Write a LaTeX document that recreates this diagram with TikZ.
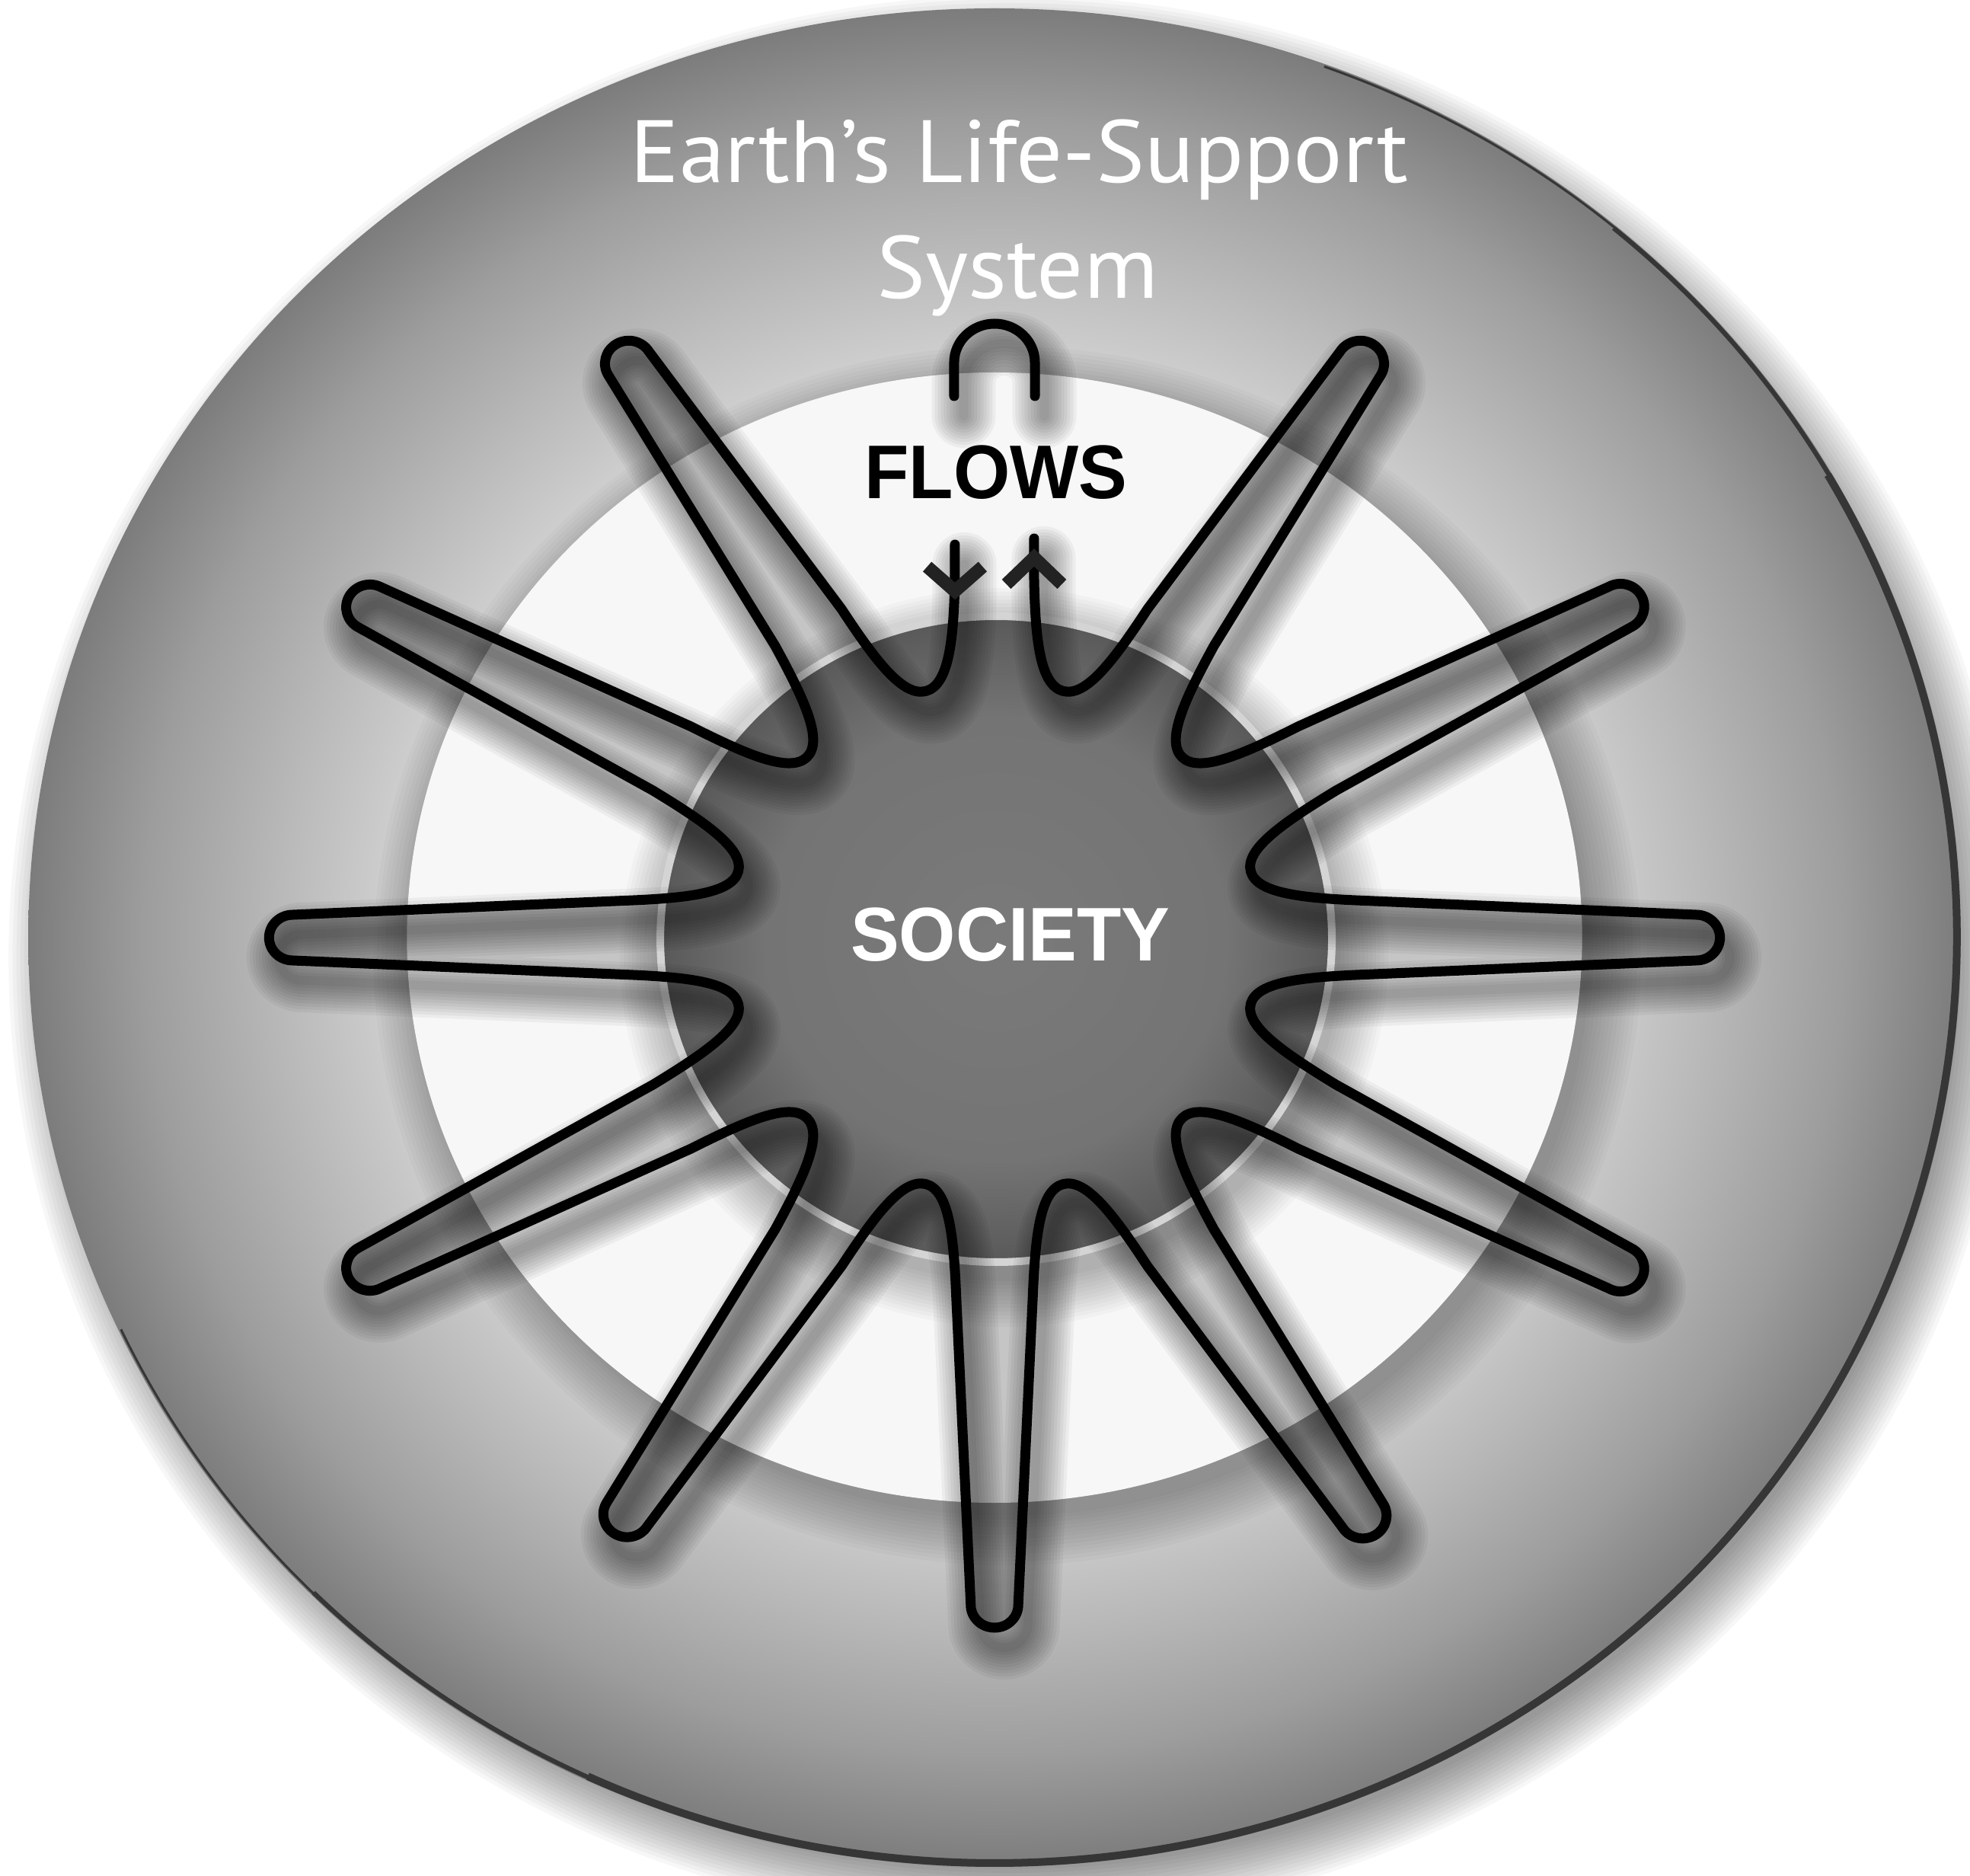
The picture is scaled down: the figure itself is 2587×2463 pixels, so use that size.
\documentclass[tikz,border=0pt]{standalone}
\usepackage{fontspec}
\newfontfamily\titlefont{PT Sans}
\newfontfamily\labelfont{Liberation Sans}[FakeStretch=0.92]
\definecolor{discA}{HTML}{D0D0D0}
\definecolor{discB}{HTML}{B9B9B9}
\definecolor{discC}{HTML}{9D9D9D}
\definecolor{discD}{HTML}{7C7C7C}
\definecolor{ringwhite}{HTML}{F7F7F7}
\definecolor{socA}{HTML}{7A7A7A}
\definecolor{socB}{HTML}{747474}
\definecolor{socC}{HTML}{585858}
\definecolor{socborder}{HTML}{D4D4D4}
\definecolor{rimdark}{HTML}{363636}
\definecolor{chevcolor}{HTML}{222222}
% the path bounding box corresponds to +-25bp of a declared shading
\pgfdeclareradialshading{discshade}{\pgfpoint{0bp}{0bp}}{color(0bp)=(discA); color(15.5bp)=(discA); color(18.5bp)=(discB); color(22bp)=(discC); color(25bp)=(discD); color(50bp)=(discD)}
\pgfdeclareradialshading{socshade}{\pgfpoint{0bp}{0bp}}{color(0bp)=(socA); color(17bp)=(socB); color(25bp)=(socC); color(50bp)=(socC)}

% one loop: #1 base direction, #2 tip direction, #3 tip radius
\newcommand\petalseg[3]{.. controls ([rotate=#1]331.4,-57.7) and ([rotate=#1]390.1,-51.6) .. ([rotate=#1]470,-48.4) -- ([rotate=#2]#3-30,-30) .. controls ([rotate=#2]#3-13.4,-30) and ([rotate=#2]#3,-16.6) .. ([rotate=#2]#3,0) .. controls ([rotate=#2]#3,16.6) and ([rotate=#2]#3-13.4,30) .. ([rotate=#2]#3-30,30) -- ([rotate=#1]470,48.4) .. controls ([rotate=#1]390.1,51.6) and ([rotate=#1]331.4,57.7) .. ([rotate=#1]323.6,86.7)}
\newcommand\starline{([rotate=90]516,50) -- ([rotate=90]470,50) .. controls ([rotate=90]390.1,51.6) and ([rotate=90]331.4,57.7) .. ([rotate=90]323.6,86.7) \foreach \a/\b/\c in {120/121.5/914, 150/151.2/930, 180/180/916, 210/208.8/930, 240/238.5/918, 270/270/906, 300/301.5/920, 330/331.2/932, 360/360/916, 390/388.8/932, 420/418.5/914}{\petalseg{\a}{\b}{\c}} .. controls ([rotate=90]331.4,-57.7) and ([rotate=90]390.1,-51.6) .. ([rotate=90]470,-50) -- ([rotate=90]524,-50)}
\newcommand\archline{(51,711) -- (51,755) .. controls (51,783.2) and (28.2,806) .. (0,806) .. controls (-28.2,806) and (-51,783.2) .. (-51,755) -- (-51,711)}
\newcommand\starfill{([rotate=0]323.6,-86.7) \foreach \a/\b/\c in {0/0/916, 30/28.8/932, 60/58.5/914}{\petalseg{\a}{\b}{\c}} -- ([rotate=90]323.6,86.7) \foreach \a/\b/\c in {120/121.5/914, 150/151.2/930, 180/180/916, 210/208.8/930, 240/238.5/918, 270/270/906, 300/301.5/920, 330/331.2/932}{\petalseg{\a}{\b}{\c}} -- cycle}

\begin{document}
\begin{tikzpicture}[x=0.01cm,y=0.01cm,
  petalline/.style={line width=1.3mm, black, line cap=round, line join=round},
  chev/.style={line width=1.7mm, chevcolor, line join=miter},
  shadowstroke/.style={black, opacity=0.045, line cap=round, line join=round}]
\useasboundingbox (-1306,-1232) rectangle (1281,1231);
\fill[white] (-1306,-1232) rectangle (1281,1231);
\begin{scope}[xscale=1.04]
  % outer disc: soft drop shadow, body, dark rim
  \foreach \r in {1195,1200,...,1265} \fill[black, opacity=0.03] (20,-28) circle[radius=\r];
  \shade[shading=discshade] (0,0) circle[radius=1220];
  \draw[rimdark, line width=0.3mm] (70:1217) arc[start angle=70, end angle=-155, radius=1217];
  \draw[rimdark, line width=0.6mm] (50:1216) arc[start angle=50, end angle=-135, radius=1216];
  \draw[rimdark, line width=1.0mm] (30:1215) arc[start angle=30, end angle=-115, radius=1215];
  % white ring with its shadow
  \foreach \r in {735,740,...,800} \fill[black, opacity=0.025] (16,-24) circle[radius=\r];
  \fill[ringwhite] (0,0) circle[radius=742];
  % petal interiors
  \fill[black, opacity=0.2] \starfill;
  % society circle with its shadow
  \foreach \r in {425,430,...,485} \fill[black, opacity=0.025] (12,-26) circle[radius=\r];
  \shade[shading=socshade] (2,-2) circle[radius=428];
  \draw[socborder, line width=1mm] (2,-2) circle[radius=424];
  % petal shadows
  \begin{scope}[shift={(12,-26)}]
    \foreach \w in {12,20,...,84} {
      \draw[shadowstroke, line width=\w*0.1mm] \starline;
      \draw[shadowstroke, line width=\w*0.1mm] \archline;
    }
  \end{scope}
  % flow loops
  \draw[petalline] \starline;
  \draw[petalline] \archline;
  \draw[chev] (-85,487) -- (-50,455) -- (-15,487);
  \draw[chev] (15,464) -- (50,499) -- (85,464);
  % texts
  \node[transform shape, text=white, font=\titlefont\fontsize{33pt}{40pt}\selectfont, anchor=base, inner sep=0pt] (title) at (31,991) {Earth’s Life-Support};
  \node[transform shape, text=white, font=\titlefont\fontsize{33pt}{40pt}\selectfont, anchor=base, inner sep=0pt] (system) at (29,839) {System};
  \node[transform shape, text=black, font=\labelfont\bfseries\fontsize{28.4pt}{34pt}\selectfont, anchor=base, inner sep=0pt] (flows) at (2,576) {FLOWS};
  \node[transform shape, text=white, font=\labelfont\bfseries\fontsize{28.4pt}{34pt}\selectfont, anchor=base, inner sep=0pt] (society) at (20,-30) {SOCIETY};
\end{scope}
\end{tikzpicture}
\end{document}
